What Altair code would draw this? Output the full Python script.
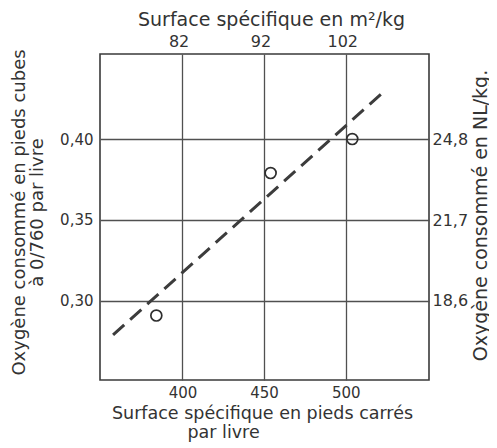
import altair as alt
import pandas as pd

# measured points (ft^2/lb vs ft^3/lb)
surface_ft2_lb = [384, 454, 504]
oxygen_ft3_lb = [0.291, 0.379, 0.400]
# dashed fitted line end points
fit_surface = [357.5, 523]
fit_oxygen = [0.279, 0.429]
# tick values
bottom_ticks = [400, 450, 500]
left_ticks = [0.30, 0.35, 0.40]
top_ticks = [82, 92, 102]
right_ticks = [18.6, 21.7, 24.8]

X_DOMAIN = [349.5, 551]
Y_DOMAIN = [0.2512, 0.4525]
TOP_DOMAIN = [72.4, 112.6]
RIGHT_DOMAIN = [15.57, 28.06]

FONT = "DejaVu Sans"
TXT = "#333333"
LINE = "#505050"
NB = "\u00a0"
ZW = "\u200b"

pts = pd.DataFrame({"s": surface_ft2_lb, "o": oxygen_ft3_lb})
fit = pd.DataFrame({"s": fit_surface, "o": fit_oxygen})
sec = pd.DataFrame({"m": top_ticks, "n": right_ticks})

points = alt.Chart(pts).mark_point(
    shape="circle", filled=False, size=120, strokeWidth=1.7, color="#2e2e2e", opacity=1
).encode(
    x=alt.X("s:Q", scale=alt.Scale(domain=X_DOMAIN, nice=False, zero=False),
            axis=alt.Axis(orient="bottom", values=bottom_ticks, grid=True, ticks=False, domain=False,
                          labelFontSize=15, labelPadding=5, labelFont=FONT, labelColor=TXT,
                          title=["Surface spécifique en pieds carrés", "par livre" + NB * 14 + ZW],
                          titleFont=FONT, titleFontSize=17.5, titleFontWeight="normal", titleColor=TXT,
                          titleAlign="center", titleBaseline="top", titleX=162, titleY=24,
                          titleLineHeight=19.5)),
    y=alt.Y("o:Q", scale=alt.Scale(domain=Y_DOMAIN, nice=False, zero=False),
            axis=alt.Axis(orient="left", values=left_ticks, grid=True, ticks=False, domain=False,
                          labelExpr="replace(format(datum.value, '.2f'), '.', ',')",
                          labelFontSize=15, labelPadding=7, labelFont=FONT, labelColor=TXT,
                          title=["Oxygène consommé en pieds cubes", NB * 7 + "à 0/760 par livre"],
                          titleFont=FONT, titleFontSize=18, titleFontWeight="normal", titleColor=TXT,
                          titleAngle=270, titleAlign="center", titleBaseline="top",
                          titleX=-90, titleY=158, titleLineHeight=18)),
)

fit_line = alt.Chart(fit).mark_line(
    color="#3c3c3c", strokeWidth=3, strokeDash=[15, 8], strokeCap="butt"
).encode(
    x=alt.X("s:Q", scale=alt.Scale(domain=X_DOMAIN, nice=False, zero=False), axis=None),
    y=alt.Y("o:Q", scale=alt.Scale(domain=Y_DOMAIN, nice=False, zero=False), axis=None),
)

secondary = alt.Chart(sec).mark_point(opacity=0).encode(
    x=alt.X("m:Q", scale=alt.Scale(domain=TOP_DOMAIN, nice=False, zero=False),
            axis=alt.Axis(orient="top", values=top_ticks, grid=False, ticks=False, domain=False,
                          labelFontSize=16, labelPadding=5, labelFont=FONT, labelColor=TXT,
                          title="Surface spécifique en m²/kg",
                          titleFont=FONT, titleFontSize=19, titleFontWeight="normal", titleColor=TXT,
                          titleAlign="center", titleBaseline="top", titleX=171, titleY=-44)),
    y=alt.Y("n:Q", scale=alt.Scale(domain=RIGHT_DOMAIN, nice=False, zero=False),
            axis=alt.Axis(orient="right", values=right_ticks, grid=False, ticks=False, domain=False,
                          labelExpr="replace(format(datum.value, '.1f'), '.', ',')",
                          labelFontSize=16, labelPadding=3, labelFont=FONT, labelColor=TXT,
                          title="Oxygène consommé en NL/kg.",
                          titleFont=FONT, titleFontSize=19, titleFontWeight="normal", titleColor=TXT,
                          titleAngle=270, titleAlign="center", titleBaseline="top",
                          titleX=42, titleY=161)),
)

chart = alt.layer(fit_line, points, secondary).resolve_scale(
    x="independent", y="independent"
).properties(
    width=329, height=326,
    padding={"left": 92, "top": 46, "right": 60, "bottom": 66},
    autosize=alt.AutoSizeParams(type="none"),
    background="white",
).configure_view(
    stroke="#3a3a3a", strokeWidth=1.6
).configure_axis(
    gridColor=LINE, gridWidth=1.3, gridOpacity=1
)

chart.save("out.html", embed_options={"renderer": "svg", "actions": False})
